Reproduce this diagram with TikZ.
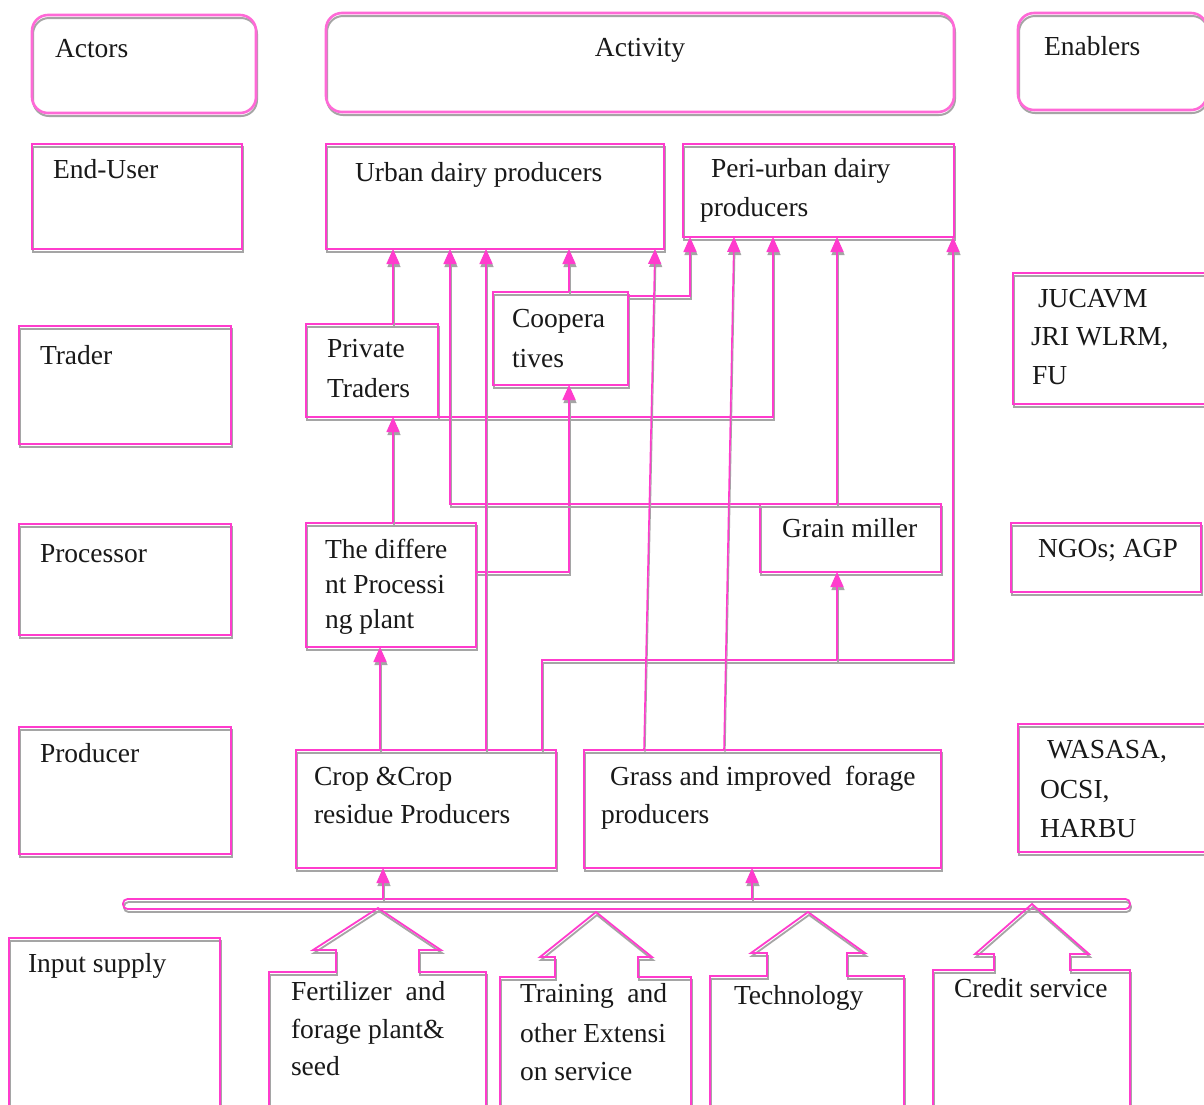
\documentclass[tikz,border=0pt]{standalone}
\usepackage{fontspec}
\setmainfont{Liberation Serif}
\usetikzlibrary{arrows.meta,fit}
\definecolor{mag}{RGB}{255,60,205}
\definecolor{maglt}{RGB}{255,105,215}
\definecolor{shgray}{RGB}{165,165,165}
\definecolor{ink}{RGB}{25,25,25}
\newcommand\lblfont{\fontsize{27.5pt}{36pt}\selectfont}
\tikzset{
  shadowed/.style={preaction={draw=shgray,line width=#1,transform canvas={shift={(1pt,-3pt)}}}},
  shadowed/.default=1.8pt,
  box/.style={draw=mag,line width=1.8pt,shadowed,inner sep=0pt,outer sep=0pt,rectangle},
  hdr/.style={draw=maglt,line width=2.6pt,shadowed=2pt,inner sep=0pt,outer sep=0pt,rounded corners=16pt},
  busbar/.style={draw=mag,line width=1.8pt,shadowed,inner sep=0pt,outer sep=0pt,rounded corners=4.5pt},
  callout/.style={draw=mag,line width=1.8pt,shadowed,line join=miter},
  txt/.style={anchor=base west,inner sep=0pt,outer sep=0pt,font=\lblfont,text=ink},
  conn/.style={draw=mag,line width=1.6pt,shadowed=1.2pt},
  arr/.style={conn,-{Triangle[width=13pt,length=15pt]}},
}
\begin{document}
\begin{tikzpicture}[x=1pt,y=-1pt]
\useasboundingbox (0,0) rectangle (1204,1104);
\clip (0,0) rectangle (1204,1104);
\fill[white] (0,0) rectangle (1204,1104);

% header row
\node[hdr,fit={(32,15) (256,113)}] (actors) {};
\node[hdr,fit={(326,13) (954,112)}] (activity) {};
\node[hdr,fit={(1018,13) (1207,110)}] (enablers) {};
\node[txt] (t-actors) at (55,57) {Actors};
\node[txt,anchor=base] (t-activity) at (640,56) {Activity};
\node[txt] (t-enablers) at (1044,55) {Enablers};

% boxes
\node[box,fit={(32,144) (242,249)}] (enduser) {};
\node[box,fit={(326,144) (664,249)}] (urban) {};
\node[box,fit={(683,144) (954,237)}] (peri) {};
\node[box,fit={(19,326) (231,444)}] (trader) {};
\node[box,fit={(306,324) (438,417)}] (priv) {};
\node[box,fit={(493,292) (628,385)}] (coop) {};
\node[box,fit={(1013,273) (1210,404)}] (jucavm) {};
\node[box,fit={(19,524) (231,635)}] (processor) {};
\node[box,fit={(306,523) (476,647)}] (proc) {};
\node[box,fit={(760,504) (941,572)}] (grain) {};
\node[box,fit={(1011,523) (1201,592)}] (ngos) {};
\node[box,fit={(19,727) (231,854)}] (producer) {};
\node[box,fit={(296,750) (556,868)}] (crop) {};
\node[box,fit={(584,750) (941,868)}] (grass) {};
\node[box,fit={(1018,724) (1210,852)}] (wasasa) {};
\node[box,fit={(9,938) (220,1115)}] (input) {};
\node[busbar,fit={(123,899) (1130,909)}] (bus) {};

% callout boxes (input supply)
\draw[callout] (269,1115) -- (269,972) -- (336,972) -- (336,950) -- (313,950) -- (378,908) coordinate (fert-tip) -- (441,950) -- (419,950) -- (419,972) -- (486,972) -- (486,1115);
\draw[callout] (500,1115) -- (500,977) -- (555,977) -- (555,957) -- (540,957) -- (596,912) coordinate (train-tip) -- (652,957) -- (638,957) -- (638,977) -- (691,977) -- (691,1115);
\draw[callout] (710,1115) -- (710,976) -- (767,976) -- (767,953) -- (751,953) -- (808,912) coordinate (tech-tip) -- (865,953) -- (847,953) -- (847,976) -- (904,976) -- (904,1115);
\draw[callout] (933,1115) -- (933,970) -- (994,970) -- (994,954) -- (975,954) -- (1032,904) coordinate (credit-tip) -- (1089,954) -- (1070,954) -- (1070,970) -- (1130,970) -- (1130,1115);

% texts
\node[txt] (t-enduser) at (53,178) {End-User};
\node[txt] (t-urban) at (355,181) {Urban dairy producers};
\node[txt] (t-peri1) at (711,177) {Peri-urban dairy};
\node[txt] (t-peri2) at (700,216) {producers};
\node[txt] (t-trader) at (40,364) {Trader};
\node[txt] (t-priv1) at (327,357) {Private};
\node[txt] (t-priv2) at (327,397) {Traders};
\node[txt] (t-coop1) at (512,327) {Coopera};
\node[txt] (t-coop2) at (512,367) {tives};
\node[txt] (t-juc1) at (1038,307) {JUCAVM};
\node[txt] (t-juc2) at (1031,345) {JRI WLRM,};
\node[txt] (t-juc3) at (1032,384) {FU};
\node[txt] (t-processor) at (40,562) {Processor};
\node[txt] (t-proc1) at (325,558) {The differe};
\node[txt] (t-proc2) at (325,593) {nt Processi};
\node[txt] (t-proc3) at (325,628) {ng plant};
\node[txt] (t-grain) at (782,537) {Grain miller};
\node[txt] (t-ngos) at (1038,557) {NGOs; AGP};
\node[txt] (t-producer) at (40,762) {Producer};
\node[txt] (t-crop1) at (314,785) {Crop \&Crop};
\node[txt] (t-crop2) at (314,823) {residue Producers};
\node[txt] (t-grass1) at (610,785) {Grass and improved\ \ forage};
\node[txt] (t-grass2) at (601,823) {producers};
\node[txt] (t-was1) at (1047,758) {WASASA,};
\node[txt] (t-was2) at (1040,798) {OCSI,};
\node[txt] (t-was3) at (1040,837) {HARBU};
\node[txt] (t-input) at (28,972) {Input\ supply};
\node[txt] (t-fert1) at (291,1000) {Fertilizer\ \ and};
\node[txt] (t-fert2) at (291,1038) {forage plant\&};
\node[txt] (t-fert3) at (291,1075) {seed};
\node[txt] (t-train1) at (520,1002) {Training\ \ and};
\node[txt] (t-train2) at (520,1042) {other Extensi};
\node[txt] (t-train3) at (520,1080) {on service};
\node[txt] (t-tech) at (734,1004) {Technology};
\node[txt] (t-credit) at (954,997) {Credit service};

% connectors
\coordinate (j1) at (837,660);
\coordinate (j2) at (953,660);
\draw[arr] (crop.north -| 380,0) -- (proc.south -| 380,0);
\draw[arr] (proc.north -| 393,0) -- (priv.south -| 393,0);
\draw[arr] (priv.north -| 393,0) -- (urban.south -| 393,0);
\draw[arr] (priv.south east) -| (peri.south -| 773,0);
\draw[arr] (proc.east |- 0,572) -| (coop.south -| 569,0);
\draw[arr] (coop.north -| 569,0) -- (urban.south -| 569,0);
\draw[arr] (coop.east |- 0,296) -| (peri.south -| 690,0);
\draw[arr] (grain.north west) -| (urban.south -| 450,0);
\draw[arr] (grain.north -| 837,0) -- (peri.south -| 837,0);
\draw[arr] (crop.north -| 486,0) -- (urban.south -| 486,0);
\draw[arr] (crop.north -| 542,0) |- (j2) -- (peri.south -| j2);
\draw[arr] (j1) -- (grain.south -| j1);
\draw[arr] (grass.north -| 644,0) -- (urban.south -| 655,0);
\draw[arr] (grass.north -| 724,0) -- (peri.south -| 734,0);
\draw[arr] (bus.north -| 383,0) -- (crop.south -| 383,0);
\draw[arr] (bus.north -| 752,0) -- (grass.south -| 752,0);
\end{tikzpicture}
\end{document}
